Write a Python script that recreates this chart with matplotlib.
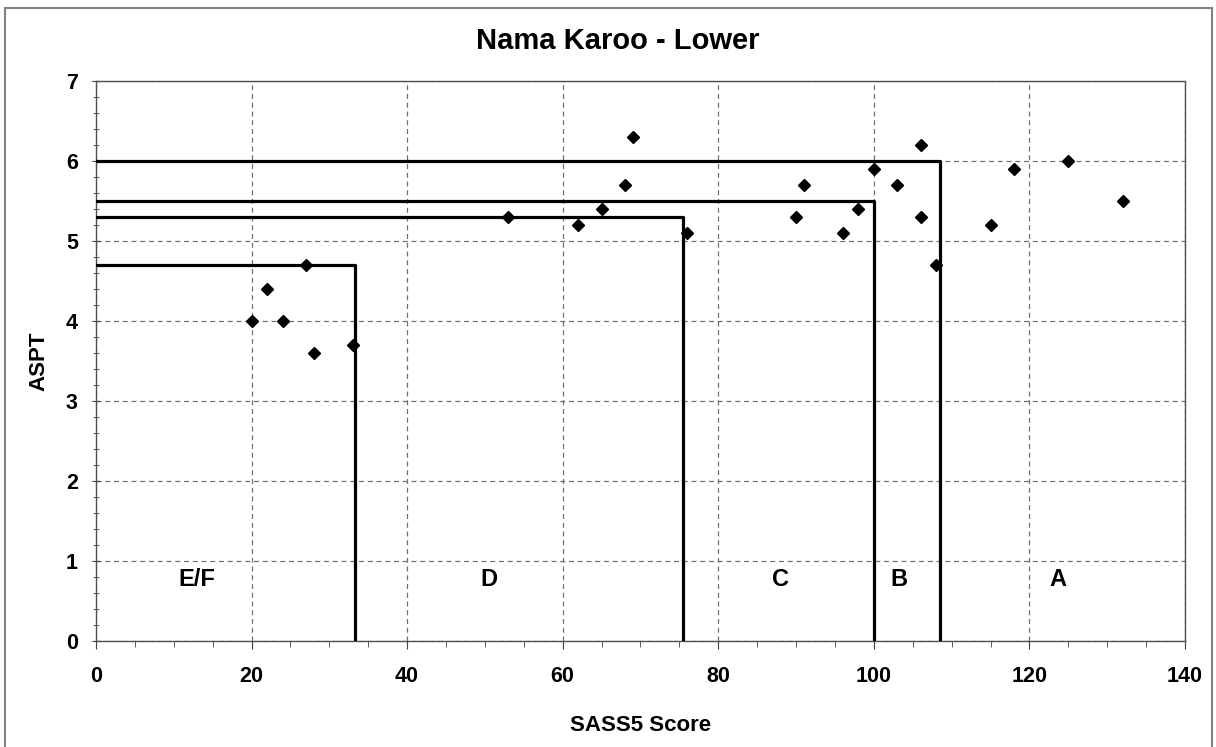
import matplotlib.pyplot as plt
from matplotlib.patches import Rectangle
from matplotlib.ticker import MultipleLocator

# SASS5 score vs ASPT for the sample sites
sass5 = [20, 22, 24, 27, 28, 33, 53, 62, 65, 68, 69, 76,
         90, 91, 96, 98, 100, 103, 106, 106, 108, 115, 118, 125, 132]
aspt = [4.0, 4.4, 4.0, 4.7, 3.6, 3.7, 5.3, 5.2, 5.4, 5.7, 6.3, 5.1,
        5.3, 5.7, 5.1, 5.4, 5.9, 5.7, 6.2, 5.3, 4.7, 5.2, 5.9, 6.0, 5.5]

# class boundaries (SASS5 limit, ASPT limit)
bound_sass = [33.3, 75.5, 100, 108.5]
bound_aspt = [4.7, 5.3, 5.5, 6.0]

classes = ["E/F", "D", "C", "B", "A"]
class_x = [13, 50.5, 88, 103.2, 123.6]
class_y = 0.77

plt.rcParams['font.family'] = ['Liberation Sans', 'DejaVu Sans']

fig = plt.figure(figsize=(12.16, 7.47), dpi=100)
ax = fig.add_axes([0.0789, 0.1419, 0.8956, 0.7501])

# frame round the whole chart
fig.patches.append(Rectangle((0.004, -0.01), 0.993, 0.999, transform=fig.transFigure,
                             fill=False, edgecolor='#808080', linewidth=1.5))

for bx, by in zip(bound_sass, bound_aspt):
    ax.plot([0, bx, bx], [by, by, 0], color='black', linewidth=2.3, zorder=3)

ax.plot(sass5, aspt, linestyle='none', marker='D', markersize=6.5,
        color='black', zorder=4)

for name, cx in zip(classes, class_x):
    ax.text(cx, class_y, name, ha='center', va='center', fontsize=17,
            fontweight='bold')

ax.set_xlim(0, 140)
ax.set_ylim(0, 7)
ax.xaxis.set_major_locator(MultipleLocator(20))
ax.xaxis.set_minor_locator(MultipleLocator(5))
ax.yaxis.set_major_locator(MultipleLocator(1))
ax.yaxis.set_minor_locator(MultipleLocator(0.2))
ax.tick_params(which='both', color='#404040')
ax.tick_params(axis='x', which='both', direction='out')
ax.tick_params(axis='y', which='both', direction='inout')
ax.tick_params(which='major', length=6, labelsize=15.5)
ax.tick_params(which='minor', length=4)
ax.tick_params(axis='x', which='major', pad=12)
ax.tick_params(axis='y', which='major', pad=10)
for lbl in ax.get_xticklabels() + ax.get_yticklabels():
    lbl.set_fontweight('bold')

ax.grid(True, which='major', linestyle=(0, (4, 3)), color='#707070', linewidth=0.9)
for s in ax.spines.values():
    s.set_color('#505050')
    s.set_linewidth(1.0)

fig.text(0.508, 0.945, "Nama Karoo - Lower", ha='center', va='center',
         fontsize=21, fontweight='bold')
ax.set_xlabel("SASS5 Score", fontsize=16, fontweight='bold', labelpad=20)
ax.set_ylabel("ASPT", fontsize=16, fontweight='bold', labelpad=12)

plt.savefig("out.png", dpi=100)
